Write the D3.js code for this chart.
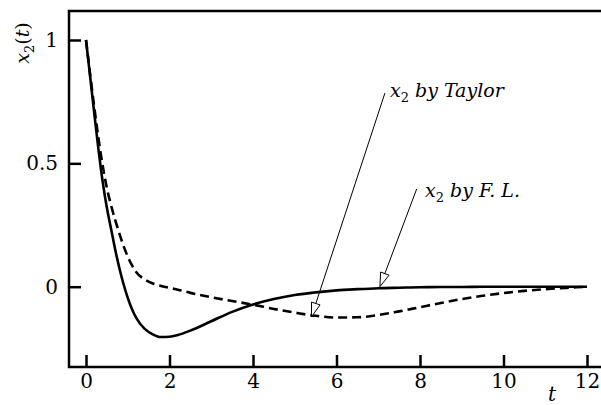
<!DOCTYPE html>
<html lang="en">
<head>
    <meta charset="UTF-8">
    <title>x2(t)</title>
    <script src="https://cdnjs.cloudflare.com/ajax/libs/d3/7.8.5/d3.min.js"></script>
    <style>
        body { margin: 0; background: #fff; }
    </style>
</head>
<body>
<svg id="chart" width="601" height="405"></svg>
<script>
    // time points
    const tValues = [0, 0.1, 0.2, 0.3, 0.4, 0.5, 0.6, 0.7, 0.8, 0.9, 1.0, 1.1, 1.2, 1.4, 1.6, 1.8, 2.0,
      2.2, 2.5, 3.0, 3.5, 4.0, 4.5, 5.0, 5.5, 6.0, 6.5, 7.0, 7.5, 8.0, 8.5, 9.0, 9.5, 10.0, 10.5, 11.0, 11.5, 12.0];

    // solid curve
    const taylorValues = [1.0, 0.85, 0.70, 0.555, 0.425, 0.32, 0.235, 0.15, 0.075, 0.01, -0.045, -0.09, -0.125,
      -0.17, -0.193, -0.204, -0.203, -0.196, -0.178, -0.14, -0.102, -0.072, -0.05, -0.034, -0.023, -0.015,
      -0.01, -0.006, -0.004, -0.002, -0.0015, -0.001, -0.0005, 0, 0, 0, 0, 0];

    // dashed curve
    const flValues = [1.0, 0.86, 0.725, 0.6, 0.49, 0.4, 0.33, 0.27, 0.215, 0.165, 0.122, 0.087, 0.06,
      0.03, 0.013, 0.003, -0.005, -0.012, -0.025, -0.043, -0.058, -0.073, -0.09, -0.105, -0.118, -0.125,
      -0.124, -0.115, -0.1, -0.083, -0.066, -0.05, -0.037, -0.026, -0.017, -0.01, -0.005, 0];

    const xTicks = [0, 2, 4, 6, 8, 10, 12];
    const yTicks = [0, 0.5, 1];

    // arrow annotations: label, text anchor, line start, tip (data coords)
    const notes = [
      { label: 'by Taylor', text: [7.28, 0.77], from: [7.16, 0.785], tip: [5.4, -0.122] },
      { label: 'by F. L.', text: [8.12, 0.365], from: [7.92, 0.396], tip: [7.04, 0.0] }
    ];

    const serif = 'DejaVu Serif';
    const frameL = 69, frameR = 601, frameT = 11, frameB = 367;

    const x = d3.scaleLinear().domain([0, 12]).range([86, 587]);
    const y = d3.scaleLinear().domain([0, 1]).range([286.7, 40]);

    const svg = d3.select('#chart');

    // frame (left, top, bottom)
    svg.append('path')
      .attr('d', `M${frameR},${frameT}H${frameL}V${frameB}H${frameR}`)
      .attr('fill', 'none')
      .attr('stroke', '#000')
      .attr('stroke-width', 2.5);

    const xAxis = svg.append('g')
      .attr('transform', `translate(0,${frameB})`)
      .call(d3.axisBottom(x).tickValues(xTicks).tickSize(-12).tickPadding(6).tickFormat(d3.format('d')));
    xAxis.attr('font-family', serif).attr('font-size', 20);
    xAxis.select('.domain').remove();
    xAxis.selectAll('line').attr('stroke-width', 2.5);
    xAxis.selectAll('text').attr('dy', '0.76em');

    const yAxis = svg.append('g')
      .attr('transform', `translate(${frameL},0)`)
      .call(d3.axisLeft(y).tickValues(yTicks).tickSize(-12).tickPadding(11).tickFormat(d => d === 0.5 ? '0.5' : d3.format('d')(d)));
    yAxis.attr('font-family', serif).attr('font-size', 20);
    yAxis.select('.domain').remove();
    yAxis.selectAll('line').attr('stroke-width', 2.5);

    const line = d3.line()
      .x(d => x(d[0]))
      .y(d => y(d[1]))
      .curve(d3.curveMonotoneX);

    svg.append('path')
      .datum(tValues.map((t, i) => [t, flValues[i]]))
      .attr('d', line)
      .attr('fill', 'none')
      .attr('stroke', '#000')
      .attr('stroke-width', 2.6)
      .attr('stroke-dasharray', '9,5');

    svg.append('path')
      .datum(tValues.map((t, i) => [t, taylorValues[i]]))
      .attr('d', line)
      .attr('fill', 'none')
      .attr('stroke', '#000')
      .attr('stroke-width', 2.6);

    // arrows with open heads
    notes.forEach(n => {
      const x0 = x(n.from[0]), y0 = y(n.from[1]);
      const x1 = x(n.tip[0]), y1 = y(n.tip[1]);
      const len = Math.hypot(x1 - x0, y1 - y0);
      const ux = (x1 - x0) / len, uy = (y1 - y0) / len;
      const hl = 14, hw = 4.5;
      const bx = x1 - ux * hl, by = y1 - uy * hl;
      svg.append('line')
        .attr('x1', x0).attr('y1', y0).attr('x2', bx).attr('y2', by)
        .attr('stroke', '#000').attr('stroke-width', 1);
      svg.append('polygon')
        .attr('points', [[x1, y1], [bx - uy * hw, by + ux * hw], [bx + uy * hw, by - ux * hw]].map(p => p.join(',')).join(' '))
        .attr('fill', '#fff').attr('stroke', '#000').attr('stroke-width', 1);

      const t = svg.append('text')
        .attr('x', x(n.text[0])).attr('y', y(n.text[1]))
        .attr('font-family', serif)
        .attr('font-size', 19).attr('font-style', 'italic');
      t.append('tspan').text('x');
      t.append('tspan').attr('font-size', 13).attr('font-style', 'normal').attr('dy', 5).text('2');
      t.append('tspan').attr('dy', -5).text('\u00a0' + n.label);
    });

    // axis titles
    const yl = svg.append('text')
      .attr('transform', 'translate(29,43) rotate(-90)')
      .attr('text-anchor', 'middle')
      .attr('font-family', serif)
      .attr('font-size', 19);
    yl.append('tspan').attr('font-style', 'italic').text('x');
    yl.append('tspan').attr('font-size', 13).attr('dy', 5).text('2');
    yl.append('tspan').attr('dy', -5).text('(');
    yl.append('tspan').attr('font-style', 'italic').text('t');
    yl.append('tspan').text(')');

    svg.append('text')
      .attr('x', 552).attr('y', 401)
      .attr('text-anchor', 'middle')
      .attr('font-family', serif)
      .attr('font-size', 20)
      .attr('font-style', 'italic')
      .text('t');
</script>
</body>
</html>
